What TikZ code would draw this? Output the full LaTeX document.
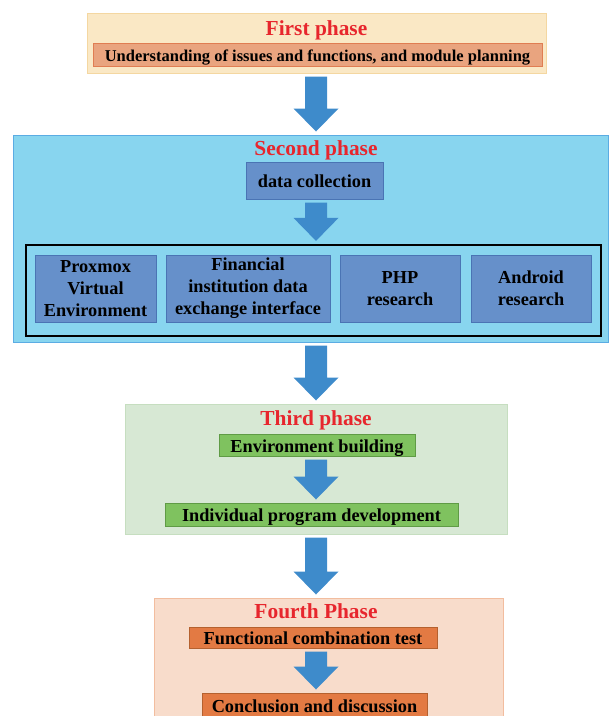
\documentclass[tikz,border=0pt]{standalone}
\usepackage{fontspec}
\setmainfont{Liberation Serif}
\usetikzlibrary{positioning,calc}
\definecolor{oneback}{HTML}{FAE8C5}
\definecolor{oneline}{HTML}{F4D7A1}
\definecolor{onefill}{HTML}{E9A47F}
\definecolor{onedraw}{HTML}{E07D52}
\definecolor{twoback}{HTML}{88D5EF}
\definecolor{twoline}{HTML}{5BACE3}
\definecolor{twofill}{HTML}{6690CA}
\definecolor{twodraw}{HTML}{4A74B4}
\definecolor{threeback}{HTML}{D7E8D4}
\definecolor{threeline}{HTML}{C6DEC0}
\definecolor{threefill}{HTML}{7FC25F}
\definecolor{threedraw}{HTML}{5F9B45}
\definecolor{fourback}{HTML}{F8DCCB}
\definecolor{fourline}{HTML}{F2BD9F}
\definecolor{fourfill}{HTML}{E37A43}
\definecolor{fourdraw}{HTML}{B5612F}
\definecolor{arrowblue}{HTML}{3E8BCB}
\definecolor{titlered}{HTML}{E7262D}
\tikzset{
  phasebox/.style={draw, line width=1pt, inner sep=0pt},
  phasetitle/.style={anchor=base, text=titlered, inner sep=0pt,
    font=\fontsize{21.4}{24}\selectfont\bfseries},
  taskbox/.style={draw, line width=1pt, inner sep=0pt, align=center,
    font=\fontsize{18.3}{22}\selectfont\bfseries},
  oneline/.style={text height=14, text depth=0}
}
% block arrow between two nodes, on the spine
\newcommand{\flowarrow}[2]{%
  \fill[arrowblue] ($(spine |- #1.south)+(-11,3)$) -- ($(spine |- #1.south)+(11,3)$)
    -- ($(spine |- #2.north)+(11,-26)$) -- ($(spine |- #2.north)+(22.5,-26)$)
    -- ($(spine |- #2.north)+(0,-3)$) -- ($(spine |- #2.north)+(-22.5,-26)$)
    -- ($(spine |- #2.north)+(-11,-26)$) -- cycle;}

\begin{document}
\begin{tikzpicture}[x=1pt,y=-1pt]
  \clip (0,0) rectangle (609,716);
  \coordinate (spine) at (316,0);
  % first phase
  \node[phasebox, fill=oneback, draw=oneline, minimum width=459, minimum height=60] (p1) at (316.5,43) {};
  \node[phasetitle] (t1) at ($(p1.north)+(0,23)$) {First phase};
  \node[taskbox, fill=onefill, draw=onedraw, minimum width=449, minimum height=23, text height=13, text depth=0,
    font=\fontsize{16.5}{20}\selectfont\bfseries] (a1) at (317.5,54.5)
    {Understanding of issues and functions, and module planning};
  % second phase
  \node[phasebox, fill=twoback, draw=twoline, minimum width=595, minimum height=207] (p2) at (310.5,238.5) {};
  \node[phasetitle] (t2) at ($(spine |- p2.north)+(0,21)$) {Second phase};
  \node[taskbox, oneline, fill=twofill, draw=twodraw, minimum width=137, minimum height=37] (b0) at (314.5,180.5) {data collection};
  \node[draw, line width=2.2pt, minimum width=575, minimum height=91, inner sep=0pt] (frame) at (313.5,290.5) {};
  \node[taskbox, fill=twofill, draw=twodraw, minimum width=121, minimum height=67] (b1) at (95.5,288.5)
    {Proxmox\\Virtual\\Environment};
  \node[taskbox, fill=twofill, draw=twodraw, minimum width=164, minimum height=67, right=9 of b1] (b2)
    {Financial\\institution data\\exchange interface};
  \node[taskbox, fill=twofill, draw=twodraw, minimum width=120, minimum height=67, right=9 of b2] (b3)
    {PHP\\research};
  \node[taskbox, fill=twofill, draw=twodraw, minimum width=120, minimum height=67, right=10 of b3] (b4)
    {Android\\research};
  % third phase
  \node[phasebox, fill=threeback, draw=threeline, minimum width=382, minimum height=130] (p3) at (316,469) {};
  \node[phasetitle] (t3) at ($(p3.north)+(0,22)$) {Third phase};
  \node[taskbox, oneline, fill=threefill, draw=threedraw, minimum width=196, minimum height=22] (c1) at (317,445) {Environment building};
  \node[taskbox, oneline, fill=threefill, draw=threedraw, minimum width=293, minimum height=23] (c2) at (311.5,514.5) {Individual program development};
  % fourth phase
  \node[phasebox, fill=fourback, draw=fourline, minimum width=349, minimum height=130] (p4) at (328.5,663) {};
  \node[phasetitle] (t4) at ($(spine |- p4.north)+(0,21)$) {Fourth Phase};
  \node[taskbox, oneline, fill=fourfill, draw=fourdraw, minimum width=248, minimum height=21] (d1) at (313,637.5) {Functional combination test};
  \node[taskbox, oneline, fill=fourfill, draw=fourdraw, minimum width=225, minimum height=24] (d2) at (314.5,705) {Conclusion and discussion};
  % arrows
  \flowarrow{p1}{p2}
  \flowarrow{b0}{frame}
  \flowarrow{p2}{p3}
  \flowarrow{c1}{c2}
  \flowarrow{p3}{p4}
  \flowarrow{d1}{d2}
\end{tikzpicture}
\end{document}
